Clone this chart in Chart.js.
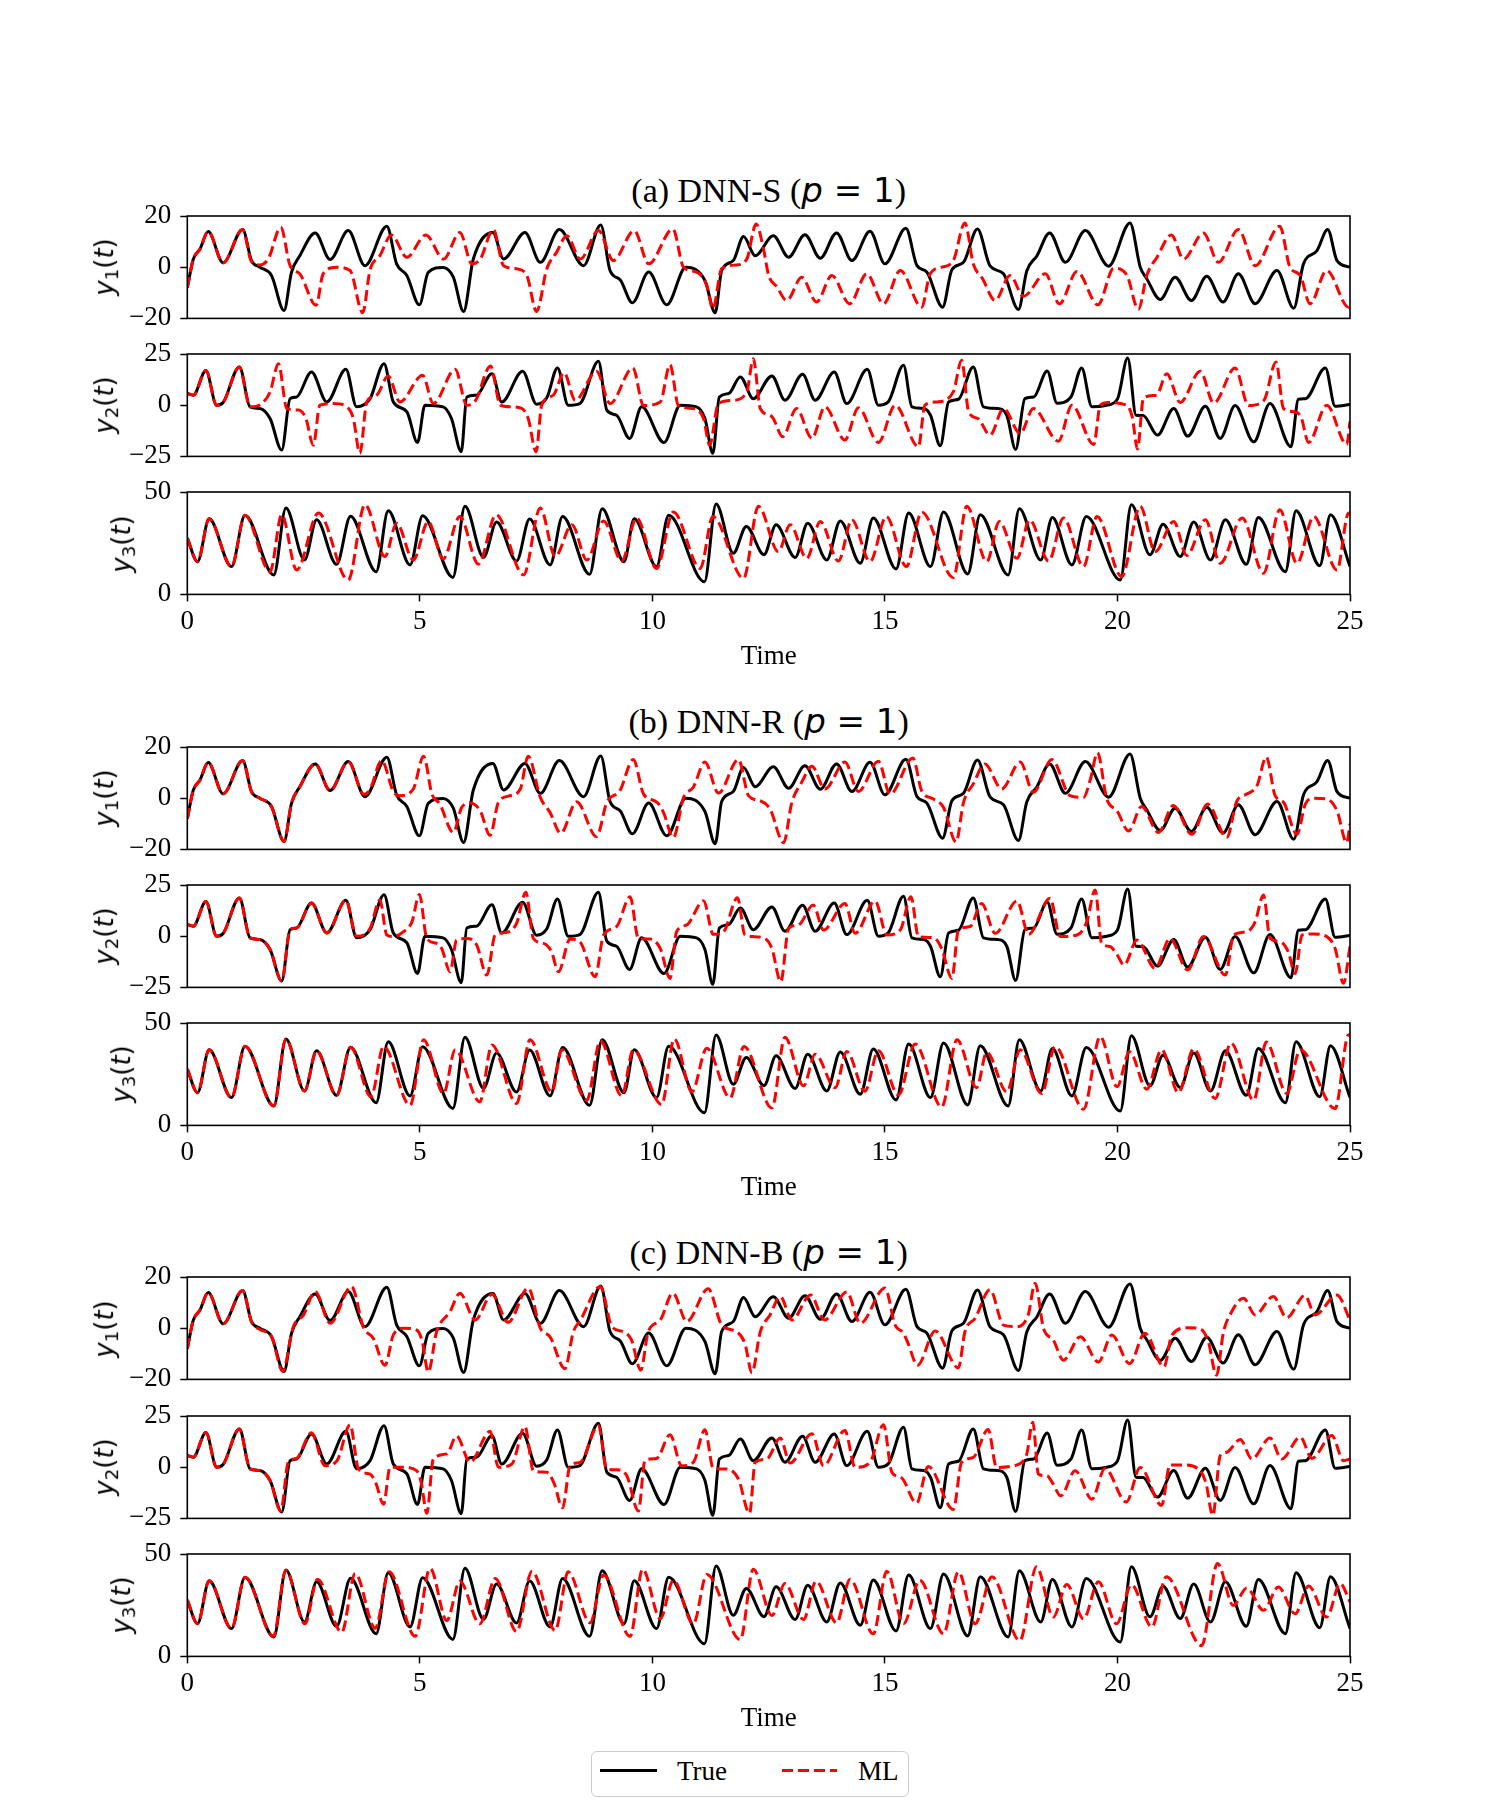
<!DOCTYPE html>
<html><head><meta charset="utf-8">
<script src="https://cdn.jsdelivr.net/npm/chart.js@4.4.1/dist/chart.umd.min.js"></script>
<style>
body{margin:0;background:#fff;width:1500px;height:1800px;position:relative;overflow:hidden}
canvas{position:absolute;left:0}
.title{position:absolute;transform:translate(-50%,-50%);white-space:nowrap;font-family:'Liberation Serif';font-size:34px;color:#000;line-height:1}
.math{font-family:'DejaVu Sans'}
.ylab{position:absolute;transform:translate(-50%,-50%) rotate(-90deg);white-space:nowrap;font-family:'DejaVu Sans';font-size:26px;color:#000;line-height:1}
.ylab sub{font-size:70%;vertical-align:-0.25em;font-style:normal}
#legend{position:absolute;left:591px;top:1751px;width:318px;height:46px;border:1.5px solid #cccccc;border-radius:6px;box-sizing:border-box;background:#fff}
#legend span{position:absolute;font-family:'Liberation Serif';font-size:27px;line-height:32px;top:3px;color:#000}
</style></head><body>
<div id="legend">
<svg style="position:absolute;left:0;top:0" width="316" height="43">
<line x1="8" y1="18.5" x2="65" y2="18.5" stroke="#000" stroke-width="3"/>
<line x1="190" y1="18.5" x2="245" y2="18.5" stroke="#ff0000" stroke-width="3" stroke-dasharray="11,5"/>
</svg>
<span style="left:85px">True</span><span style="left:266px">ML</span>
</div>
<script>
// ---- data (time, value) ----
const TIME_TICKS = [0,5,10,15,20,25];
const Y1_TICKS = [-20,0,20];
const Y2_TICKS = [-25,0,25];
const Y3_TICKS = [0,50];
const GROUP_TITLES = ['(a) DNN-S','(b) DNN-R','(c) DNN-B'];

const TRUE_Y1 = [[0,-8],[0.13,3.2],[0.27,7],[0.45,13.9],[0.77,1.7],[1.19,14.7],[1.38,2.6],[1.56,0],[1.81,-3.2],[2.08,-16.9],[2.24,-2],[2.42,4.5],[2.75,13.4],[3.07,3],[3.46,14.3],[3.82,0.6],[4.29,16],[4.5,1.3],[4.72,-3.2],[4.99,-14.7],[5.18,-2],[5.5,-0.1],[5.72,-3.9],[5.94,-17.3],[6.15,3.2],[6.57,13.6],[6.8,3.2],[7.26,13.6],[7.59,1.9],[8.0,14.7],[8.52,0.6],[8.89,16.5],[9.09,-1.3],[9.31,-5],[9.57,-13.9],[9.92,-1.9],[10.31,-14.7],[10.72,0],[11.13,-5.2],[11.35,-17.8],[11.49,-1.3],[11.74,2.6],[11.96,12],[12.21,4.5],[12.6,12.3],[12.93,3.9],[13.28,12.7],[13.61,3.5],[13.96,13.4],[14.29,2.6],[14.68,14],[15.0,1.3],[15.45,15.2],[15.69,0.6],[15.9,-1.9],[16.24,-15.6],[16.44,-1],[16.69,1.9],[16.99,14.9],[17.26,0.5],[17.55,-2.6],[17.87,-16.5],[18.05,-1.5],[18.27,4.5],[18.54,13.4],[18.88,1.9],[19.31,14.3],[19.81,0.4],[20.27,17.3],[20.49,0],[20.63,-4.5],[20.92,-12.6],[21.24,-3.9],[21.59,-13],[21.92,-3.5],[22.27,-13.6],[22.6,-2.6],[22.96,-14.3],[23.43,-1.3],[23.79,-16],[24.0,1.3],[24.29,6.5],[24.52,14.7],[24.72,2.6],[25,0]];
const TRUE_Y2 = [[0,5.7],[0.13,4.9],[0.4,17],[0.63,0],[0.77,1.3],[1.12,18.7],[1.35,-0.8],[1.56,-1.6],[1.78,-6.5],[2.03,-21.9],[2.21,3.2],[2.35,4],[2.67,16.2],[3.0,1.6],[3.41,17.5],[3.64,-0.8],[3.93,3.2],[4.23,20.3],[4.43,1.6],[4.72,-3.2],[4.95,-18.2],[5.11,0],[5.5,-0.8],[5.68,-6.5],[5.89,-22.7],[6.01,4],[6.22,4.9],[6.55,15.4],[6.76,1.6],[7.21,16.6],[7.51,0.5],[7.73,3.6],[7.96,18.2],[8.19,0],[8.44,0.8],[8.84,21.4],[9.02,-2.4],[9.23,-4.9],[9.51,-16.2],[9.77,-0.8],[10.25,-18.2],[10.6,0],[10.95,-0.8],[11.13,-6.5],[11.3,-23.5],[11.44,4],[11.64,5.7],[11.89,13.8],[12.17,3.2],[12.57,14.3],[12.85,2.4],[13.23,15.1],[13.5,2.4],[13.91,16.2],[14.18,0.8],[14.62,17.5],[14.86,0],[15.07,1.6],[15.4,19.5],[15.58,-0.8],[15.83,-1.6],[15.98,-4.9],[16.19,-19.8],[16.37,1.6],[16.58,2.9],[16.9,18.7],[17.12,-0.8],[17.41,-1.6],[17.62,-4.9],[17.81,-21.6],[18.01,3.2],[18.2,4],[18.49,16.7],[18.7,1],[19.0,4],[19.23,18.2],[19.45,-0.8],[19.77,0],[20.0,3],[20.22,23],[20.4,-4.9],[20.55,-5],[20.86,-14.6],[21.21,-1.6],[21.51,-15.1],[21.89,-0.5],[22.21,-16.2],[22.53,-0.2],[22.93,-17.9],[23.28,0.8],[23.73,-20.3],[23.89,2.9],[24.04,3.2],[24.47,18.2],[24.68,-0.5],[25,0.3]];
const TRUE_Y3 = [[0,27.5],[0.22,16],[0.47,36.9],[0.95,13.6],[1.24,38.6],[1.86,9.5],[2.12,42.2],[2.52,16.8],[2.78,36.4],[3.21,14.7],[3.51,38.1],[4.06,11.1],[4.32,40.8],[4.79,14.4],[5.06,38.4],[5.71,8.3],[5.97,43],[6.37,18.1],[6.65,35.3],[7.08,16.3],[7.36,36.8],[7.8,14.4],[8.07,38],[8.65,9.8],[8.92,41.8],[9.39,16],[9.61,36.9],[10.09,13.6],[10.35,38.6],[11.12,6.2],[11.37,44.1],[11.74,20.1],[12.02,33.2],[12.4,19.4],[12.66,34],[13.07,18],[13.34,34.8],[13.75,16.8],[14.04,35.9],[14.47,15.2],[14.75,37.3],[15.24,12.4],[15.51,39.7],[15.98,13.6],[16.26,40.2],[16.78,10],[17.05,38.9],[17.65,9.5],[17.89,41.8],[18.35,16.8],[18.6,37.5],[19.02,14.4],[19.33,38],[20.06,7],[20.3,43.8],[20.7,19.3],[20.98,34.3],[21.35,18.5],[21.64,35.3],[22.0,16.8],[22.32,36.4],[22.77,14.7],[23.03,37.6],[23.61,11.1],[23.84,40.8],[24.35,14],[24.58,38.9],[25,13.6]];

const ML_A_Y1 = [[0,-8],[0.13,3.2],[0.27,7],[0.45,13.9],[0.77,1.7],[1.19,14.7],[1.38,2.2],[1.56,0.9],[1.74,3.2],[2.01,15.6],[2.21,0.6],[2.42,-2.6],[2.77,-14.9],[2.92,-2.6],[3.21,0],[3.5,-1.3],[3.77,-17.8],[3.93,-1],[4.14,4.5],[4.39,12.6],[4.72,3.9],[5.13,12.6],[5.51,3.2],[5.86,13.6],[6.12,1.3],[6.3,3.2],[6.58,14.7],[6.8,0.6],[7.08,-0.6],[7.3,-3.2],[7.51,-17.3],[7.73,-0.6],[7.94,5.8],[8.16,12.3],[8.45,3.2],[8.84,14.3],[9.16,2.6],[9.61,14.3],[9.92,1.3],[10.44,14.9],[10.67,0],[10.96,-2],[11.17,-7.1],[11.3,-16.2],[11.49,-0.6],[11.81,0.9],[12.03,3.2],[12.23,16.9],[12.39,7],[12.5,-3.2],[12.67,-7.5],[12.89,-13],[13.21,-3.9],[13.53,-13.6],[13.86,-3.2],[14.24,-14.3],[14.61,-2.6],[14.97,-14.3],[15.33,-1.3],[15.79,-15.6],[15.97,-2.6],[16.22,0],[16.47,2.6],[16.72,17.3],[16.9,1.3],[17.1,-4.5],[17.37,-13],[17.69,-3.2],[17.98,-11.3],[18.45,-2.6],[18.75,-14.3],[19.13,-1.7],[19.58,-14.7],[19.92,-0.4],[20.2,-3],[20.45,-16.5],[20.63,-3.2],[20.85,3.9],[21.16,12.6],[21.42,3.2],[21.85,13.4],[22.17,1.9],[22.6,14.7],[22.96,0.6],[23.49,16],[23.71,0],[23.93,-3.2],[24.14,-14.3],[24.5,-1.3],[24.97,-15.6],[25,-15]];
const ML_A_Y2 = [[0,5.7],[0.13,4.9],[0.4,17],[0.63,0],[0.77,1.3],[1.12,18.7],[1.35,-0.8],[1.6,0.8],[1.78,6.5],[1.96,20.3],[2.14,-1.6],[2.39,-2.4],[2.55,-6.5],[2.71,-19.5],[2.85,0],[3.14,0.8],[3.43,-0.8],[3.57,-6.5],[3.71,-23.5],[3.86,1.6],[4.07,4.9],[4.32,14.3],[4.57,1.6],[5.06,14.6],[5.29,0.8],[5.76,17.5],[6.01,0],[6.2,2.4],[6.52,19.2],[6.73,0],[6.94,-0.8],[7.19,-1.6],[7.33,-6.5],[7.5,-22.7],[7.62,0],[7.87,4.9],[8.1,15.9],[8.34,2.4],[8.8,16.6],[9.09,0.8],[9.58,18.2],[9.81,-0.2],[10.17,1.6],[10.38,19.8],[10.56,-0.2],[10.88,-1.6],[11.1,-6.5],[11.23,-19.5],[11.42,0.8],[11.74,2.4],[12.03,6.5],[12.17,22.7],[12.32,-1.6],[12.53,-4.9],[12.6,-6.5],[12.8,-15.4],[13.1,-1.6],[13.43,-16.2],[13.71,-0.8],[14.14,-17],[14.43,-1.3],[14.86,-18.2],[15.22,0],[15.72,-20.3],[15.86,0],[16.12,1.6],[16.47,6.5],[16.65,21.9],[16.8,-3.2],[17.0,-6.5],[17.26,-14.6],[17.55,-1.6],[17.91,-13.8],[18.19,-1.6],[18.73,-17.6],[19.02,0],[19.49,-19.2],[19.63,0],[19.8,1.3],[20.2,0],[20.32,-6],[20.43,-21.4],[20.56,3.6],[20.84,4.9],[21.06,15.4],[21.35,1.3],[21.78,16.6],[22.07,1],[22.53,18.2],[22.82,-0.2],[23.15,2.4],[23.41,21.1],[23.57,-1.6],[23.82,-3.2],[23.95,-6],[24.11,-18.2],[24.5,0],[24.93,-19.2],[25,-8]];
const ML_A_Y3 = [[0,27.5],[0.22,16],[0.47,36.9],[0.95,13.6],[1.24,38.6],[1.78,11.1],[2.03,38.9],[2.35,11.9],[2.82,39.7],[3.46,7],[3.82,43.8],[4.25,18.5],[4.5,34.8],[4.86,16.8],[5.18,35.6],[5.5,17.3],[5.86,38],[6.26,14.8],[6.64,38.9],[7.23,9.5],[7.59,42.2],[7.91,18.5],[8.27,34],[8.59,16.8],[8.95,35.9],[9.34,16.3],[9.66,37.3],[10.09,12.7],[10.45,40.2],[11.03,12.7],[11.3,38],[11.96,7.8],[12.28,43],[12.71,20.9],[12.96,34],[13.32,17.6],[13.61,35.6],[14.0,16.3],[14.29,36.4],[14.68,16],[15.03,38],[15.46,13.6],[15.79,40.2],[16.47,8.2],[16.76,43],[17.19,16],[17.46,35.6],[17.84,17.6],[18.11,36.4],[18.52,16.3],[18.84,37.3],[19.27,13.6],[19.56,38],[20.09,8.7],[20.49,43],[20.81,20.9],[21.21,35.6],[21.49,19],[21.89,36.4],[22.21,15.2],[22.68,37.3],[23.14,10.3],[23.49,41.3],[23.86,15.2],[24.22,38],[24.72,11.9],[24.97,39.7],[25,39]];

const ML_B_Y1 = [[0,-8],[0.13,3.2],[0.27,7],[0.45,13.9],[0.77,1.7],[1.19,14.7],[1.38,2.6],[1.56,0],[1.81,-3.2],[2.08,-16.9],[2.24,-2],[2.42,4.5],[2.75,13.4],[3.07,3],[3.46,14.3],[3.8,1.5],[3.93,3.5],[4.18,14.7],[4.43,2.6],[4.57,1],[4.86,3.6],[5.08,16.4],[5.26,1.6],[5.43,-2.3],[5.72,-13.4],[5.9,-3.6],[6.08,-1.9],[6.3,-5],[6.51,-14.5],[6.69,-1.6],[6.94,1],[7.16,3.6],[7.33,16.4],[7.59,0.3],[7.8,-5.6],[8.03,-13.7],[8.37,-1.4],[8.8,-15],[9.02,-1.6],[9.3,2.9],[9.59,15.1],[9.81,1.6],[10.1,-1.6],[10.24,-5.6],[10.45,-15.4],[10.67,0.3],[10.88,4.3],[11.13,14.1],[11.42,2],[11.85,15.1],[12.07,0.9],[12.32,-1],[12.53,-4.2],[12.82,-17.4],[13.0,-1.6],[13.21,6.2],[13.43,12.5],[13.71,3.6],[14.14,14.1],[14.43,2.6],[14.86,14.4],[15.11,1.6],[15.6,15.7],[15.79,2.9],[16.04,-0.3],[16.26,-3.6],[16.53,-17.1],[16.69,-1.6],[16.9,5.6],[17.15,13.4],[17.51,3.6],[17.91,14.1],[18.19,2.3],[18.59,15.1],[18.98,1],[19.27,0.3],[19.42,7.5],[19.57,17.8],[19.77,-0.3],[19.99,-4.9],[20.24,-12.8],[20.52,-3.2],[20.88,-13.4],[21.2,-2.9],[21.6,-14.1],[21.94,-2.3],[22.35,-15.4],[22.57,-1],[22.78,1.6],[23.0,4.9],[23.2,16.1],[23.39,1],[23.57,-1.6],[23.86,-14.1],[24.04,-2.3],[24.22,0],[24.5,-0.3],[24.72,-4.9],[24.93,-17.4],[25,-10]];
const ML_B_Y2 = [[0,5.7],[0.13,4.9],[0.4,17],[0.63,0],[0.77,1.3],[1.12,18.7],[1.35,-0.8],[1.56,-1.6],[1.78,-6.5],[2.03,-21.9],[2.21,3.2],[2.35,4],[2.67,16.2],[3.0,1.6],[3.41,17.5],[3.64,0],[3.93,3.8],[4.14,17.7],[4.29,0.6],[4.43,-0.2],[4.65,2.2],[4.83,7],[4.99,20.4],[5.15,-1.1],[5.36,-3.5],[5.47,-6],[5.65,-17.4],[5.79,-1.9],[6.01,-1.1],[6.22,-4.2],[6.44,-19],[6.62,0.6],[6.87,1.9],[7.08,6.3],[7.28,21.4],[7.44,-1.1],[7.66,-3.5],[7.83,-7.5],[7.98,-17.4],[8.23,-1.4],[8.44,-2.7],[8.77,-19.8],[8.95,0.6],[9.23,4.7],[9.52,19.3],[9.7,-1.1],[9.95,-1.4],[10.17,-6],[10.38,-20.6],[10.52,2.2],[10.74,5.5],[11.1,17.3],[11.31,0.9],[11.53,2.2],[11.83,18.8],[11.99,0.6],[12.17,-0.2],[12.42,-1.1],[12.57,-6],[12.76,-22.2],[12.93,3.8],[13.14,5.5],[13.46,15.2],[13.68,3],[14.14,16],[14.36,1.4],[14.79,17.2],[15.04,0.6],[15.33,3],[15.56,19.3],[15.72,-0.2],[16.04,-0.7],[16.22,-6],[16.44,-20.6],[16.58,3],[16.83,4.7],[17.08,16],[17.37,1.4],[17.84,17.2],[18.09,0.9],[18.55,18.5],[18.77,-0.2],[19.13,0.6],[19.34,7],[19.52,22.6],[19.66,-3.5],[19.84,-5],[19.99,-9],[20.14,-14.1],[20.42,-1.9],[20.81,-15.7],[21.13,-1.1],[21.51,-16.5],[21.85,-0.2],[22.32,-19],[22.5,0.6],[22.78,2.2],[22.96,7],[23.14,20.1],[23.28,-1.1],[23.5,-2.7],[23.67,-7.5],[23.82,-18.2],[23.97,0.6],[24.22,1.1],[24.5,-0.2],[24.68,-6],[24.86,-23],[25,-5]];
const ML_B_Y3 = [[0,27.5],[0.22,16],[0.47,36.9],[0.95,13.6],[1.24,38.6],[1.86,9.5],[2.12,42.2],[2.52,16.8],[2.78,36.4],[3.21,14.7],[3.51,38.1],[3.95,14],[4.22,38.5],[4.79,9.8],[5.08,41.8],[5.51,15.6],[5.76,36.9],[6.29,11.5],[6.55,39.3],[7.08,10.7],[7.37,41.8],[7.84,16.4],[8.05,36.9],[8.59,12.3],[8.88,41.3],[9.34,14.4],[9.59,36.9],[10.2,10.2],[10.47,42.3],[10.85,16.4],[11.17,37.7],[11.67,13.4],[11.97,38.5],[12.57,8.5],[12.85,43],[13.25,19.3],[13.5,34.8],[13.93,18.4],[14.18,36.1],[14.57,16.7],[14.86,36.4],[15.29,14.8],[15.65,39.7],[16.22,9],[16.55,41.8],[16.97,18.4],[17.19,35.7],[17.62,16.4],[17.91,36.9],[18.37,15.6],[18.66,38.5],[19.27,7.9],[19.63,43.4],[19.99,18.9],[20.26,36],[20.63,17.7],[20.95,36.9],[21.31,16],[21.64,37.4],[22.1,13.1],[22.44,40.2],[22.93,12.3],[23.2,40.7],[23.64,15.6],[23.93,36.9],[24.68,8.2],[24.97,44.3],[25,44]];

const ML_C_Y1 = [[0,-8],[0.13,3.2],[0.27,7],[0.45,13.9],[0.77,1.7],[1.19,14.7],[1.38,2.6],[1.56,-0.5],[1.81,-3.2],[2.05,-16.8],[2.28,0.6],[2.5,5.2],[2.75,14.3],[3.07,1.9],[3.53,16.3],[3.79,0.2],[4.0,-4],[4.25,-14.5],[4.43,-2.6],[4.65,0],[4.93,-0.7],[5.05,-5],[5.18,-17.1],[5.36,-1.4],[5.65,6.5],[5.86,13.7],[6.19,3.2],[6.55,13.3],[6.9,2.3],[7.33,15.7],[7.59,0],[7.8,-3.4],[8.12,-15.8],[8.3,-1.4],[8.45,3],[8.88,16.3],[9.13,0.6],[9.38,-1.4],[9.55,-4.6],[9.75,-16.4],[9.91,-1.4],[10.17,3.2],[10.44,13.7],[10.74,2.6],[11.2,15.4],[11.49,1.3],[11.81,-1.4],[11.99,-6],[12.14,-17.4],[12.32,-1.4],[12.53,5.2],[12.75,12.4],[13.0,3.2],[13.4,13],[13.7,3.2],[14.18,14.1],[14.47,1.9],[15.0,15.7],[15.22,1.2],[15.4,-2],[15.5,-6],[15.7,-14.5],[16.08,-1.1],[16.58,-15.5],[16.72,-1.4],[16.94,3.9],[17.26,15],[17.55,1.2],[17.83,0.6],[18.08,5.2],[18.23,17.6],[18.41,-0.1],[18.62,-4.6],[18.84,-12.5],[19.2,-3.3],[19.59,-13.2],[19.88,-2.7],[20.26,-13.8],[20.59,-2],[21.0,-15.1],[21.17,-2.7],[21.53,0.2],[21.78,-0.3],[21.95,-5],[22.13,-18.4],[22.28,-1.4],[22.42,5.2],[22.71,11.7],[22.96,5.2],[23.35,12.4],[23.64,4.1],[24.03,12.8],[24.25,5.2],[24.72,13],[25,3.2]];
const ML_C_Y2 = [[0,5.7],[0.13,4.9],[0.4,17],[0.63,0],[0.77,1.3],[1.12,18.7],[1.35,-0.8],[1.56,-1.6],[1.78,-6.5],[2.01,-21.4],[2.17,2.4],[2.35,4.3],[2.67,16.8],[2.96,0.7],[3.22,3.2],[3.5,20.7],[3.68,-0.9],[3.93,-3.4],[4.05,-7.5],[4.22,-18.1],[4.36,0],[4.65,0],[4.93,-1.7],[5.03,-7.5],[5.15,-22.5],[5.29,4],[5.58,6.5],[5.79,15.2],[6.08,2.4],[6.51,17.5],[6.69,0],[6.98,1.6],[7.26,19.9],[7.44,-1.7],[7.73,-2.5],[7.88,-7.5],[8.07,-19.8],[8.23,0.7],[8.45,2.4],[8.84,20.4],[9.02,-0.9],[9.23,-1.2],[9.45,-4.2],[9.7,-21.4],[9.84,3.2],[10.09,4.3],[10.38,15.8],[10.63,0.7],[10.88,2.4],[11.13,18.3],[11.31,-0.6],[11.6,-0.9],[11.85,-5.8],[12.09,-22.5],[12.21,2.4],[12.46,4],[12.75,14.2],[12.96,2],[13.43,16.3],[13.68,0.7],[14.14,17.9],[14.36,-0.1],[14.68,2.4],[14.97,20.7],[15.15,-2.5],[15.35,-5],[15.68,-17.6],[15.93,0.4],[16.47,-20.6],[16.65,2.4],[16.9,4.8],[17.22,18.4],[17.4,-0.1],[17.76,0.7],[18.04,5.7],[18.18,22],[18.3,-3.4],[18.48,-4.2],[18.6,-7.5],[18.78,-14],[19.09,-1.7],[19.45,-15.6],[19.73,-0.6],[20.19,-17],[20.49,-0.1],[20.95,-18.6],[21.13,1.1],[21.42,1.1],[21.74,-0.9],[21.9,-7.5],[22.05,-23.5],[22.21,5.7],[22.35,7.3],[22.64,13.5],[22.89,4],[23.28,14.2],[23.53,4],[23.93,14.7],[24.18,4.3],[24.61,15.5],[24.86,3.2],[25,4]];
const ML_C_Y3 = [[0,27.5],[0.22,16],[0.47,36.9],[0.95,13.6],[1.24,38.6],[1.85,9.8],[2.12,42.1],[2.53,15.9],[2.8,37.7],[3.32,11.8],[3.61,40.5],[4.04,13.8],[4.34,41.3],[4.9,9.8],[5.22,43],[5.58,17.5],[5.86,36.7],[6.29,15.9],[6.62,38],[7.08,12.1],[7.41,41.6],[7.91,12.6],[8.19,41.3],[8.66,16.4],[8.95,39.7],[9.52,9.8],[9.79,42.6],[10.17,18.4],[10.45,37.2],[10.88,15.9],[11.17,40],[11.89,8.2],[12.17,42.6],[12.57,20],[12.85,35.6],[13.25,18],[13.52,36.7],[13.96,16.4],[14.25,37.7],[14.75,11],[15.04,41.6],[15.4,15.9],[15.75,37.2],[16.26,11],[16.58,41.3],[16.94,15.9],[17.3,38.9],[17.9,7.7],[18.26,43.8],[18.62,19.2],[18.91,35.1],[19.27,18.4],[19.59,36.4],[19.98,15.9],[20.3,35],[20.74,14.3],[21.05,38.9],[21.81,5.2],[22.15,45.4],[22.49,24.9],[22.78,33.4],[23.14,22.5],[23.46,33.9],[23.82,20.8],[24.11,34.4],[24.5,19.2],[24.79,35.6],[25,26.6]];

// ---- layout ----
const GROUP_TOP = [215.8, 746.6, 1277.3];
const PANEL_OFF = [0, 138.4, 276.6];
const PANEL_H = 102.4;
const PLOT_L = 187.3, PLOT_R = 1350;
const PAD_T = 32, PAD_B = 32, XAXIS_H = 78.5;

const TRUES = [TRUE_Y1, TRUE_Y2, TRUE_Y3];
const MLS = [[ML_A_Y1, ML_A_Y2, ML_A_Y3],[ML_B_Y1, ML_B_Y2, ML_B_Y3],[ML_C_Y1, ML_C_Y2, ML_C_Y3]];
const YTICKS = [Y1_TICKS, Y2_TICKS, Y3_TICKS];

const frame = {id:'frame', afterDatasetsDraw(c){const a=c.chartArea,ctx=c.ctx;ctx.save();ctx.strokeStyle='#000';ctx.lineWidth=1.6;ctx.strokeRect(a.left,a.top,a.right-a.left,a.bottom-a.top);ctx.restore();}};
const tickFont = {family:'Liberation Serif', size:27};
const toXY = d => d.map(p => ({x:p[0], y:p[1]}));
const minus = v => String(v).replace('-', '\u2212');

function addDiv(cls, html, x, y){const d=document.createElement('div');d.className=cls;d.innerHTML=html;d.style.left=x+'px';d.style.top=y+'px';document.body.appendChild(d);}

for (let g=0; g<3; g++){
  addDiv('title', GROUP_TITLES[g]+' (<span class="math"><i>p</i> = 1</span>)', (PLOT_L+PLOT_R)/2, GROUP_TOP[g]-25.8);
  for (let k=0; k<3; k++){
    const top = GROUP_TOP[g]+PANEL_OFF[k];
    const bottom = (k===2);
    const cv = document.createElement('canvas');
    const h = PAD_T + PANEL_H + (bottom ? XAXIS_H : PAD_B);
    cv.width = 1500; cv.height = Math.ceil(h);
    cv.style.width='1500px'; cv.style.height=Math.ceil(h)+'px';
    cv.style.top = (top-PAD_T)+'px';
    const padB = bottom ? Math.ceil(h) - h : Math.ceil(h) - PAD_T - PANEL_H;
    document.body.appendChild(cv);
    addDiv('ylab', '<i>y</i><sub>'+(k+1)+'</sub>(<i>t</i>)', k===2 ? 123 : 106, top+PANEL_H/2);
    const yt = YTICKS[k];
    new Chart(cv, {
      type:'line',
      data:{datasets:[
        {label:'ML', data:toXY(MLS[g][k]), borderColor:'#ff0000', borderWidth:3, borderDash:[11,5], pointRadius:0, cubicInterpolationMode:'monotone', order:0, fill:false, borderCapStyle:'butt', borderJoinStyle:'round'},
        {label:'True', data:toXY(TRUES[k]), borderColor:'#000000', borderWidth:3, pointRadius:0, cubicInterpolationMode:'monotone', order:1, fill:false, borderJoinStyle:'round'}
      ]},
      options:{
        responsive:false, animation:false, devicePixelRatio:1, events:[],
        layout:{padding:{left:0, right:1500-PLOT_R, top:PAD_T, bottom:padB}},
        plugins:{legend:{display:false}, tooltip:{enabled:false}},
        scales:{
          x:{type:'linear', min:0, max:25, display:bottom,
             afterBuildTicks(s){ s.ticks = TIME_TICKS.map(v=>({value:v})); },
             ticks:{font:tickFont, color:'#000', padding:4, maxRotation:0, autoSkip:false, callback:v=>minus(v)},
             grid:{drawOnChartArea:false, drawTicks:true, tickLength:7, tickWidth:1.5, color:'#000'},
             border:{display:false},
             title:{display:true, text:'Time', font:tickFont, color:'#000', padding:{top:0,bottom:0}},
             afterFit(s){ s.height = bottom ? XAXIS_H : 0; }},
          y:{min:yt[0], max:yt[yt.length-1],
             afterBuildTicks(s){ s.ticks = yt.map(v=>({value:v})); },
             ticks:{font:tickFont, color:'#000', padding:9, autoSkip:false, callback:v=>minus(v)},
             grid:{drawOnChartArea:false, drawTicks:true, tickLength:7, tickWidth:1.5, color:'#000'},
             border:{display:false},
             afterFit(s){ s.width = PLOT_L; }}
        }
      },
      plugins:[frame]
    });
  }
}
</script>
</body></html>
